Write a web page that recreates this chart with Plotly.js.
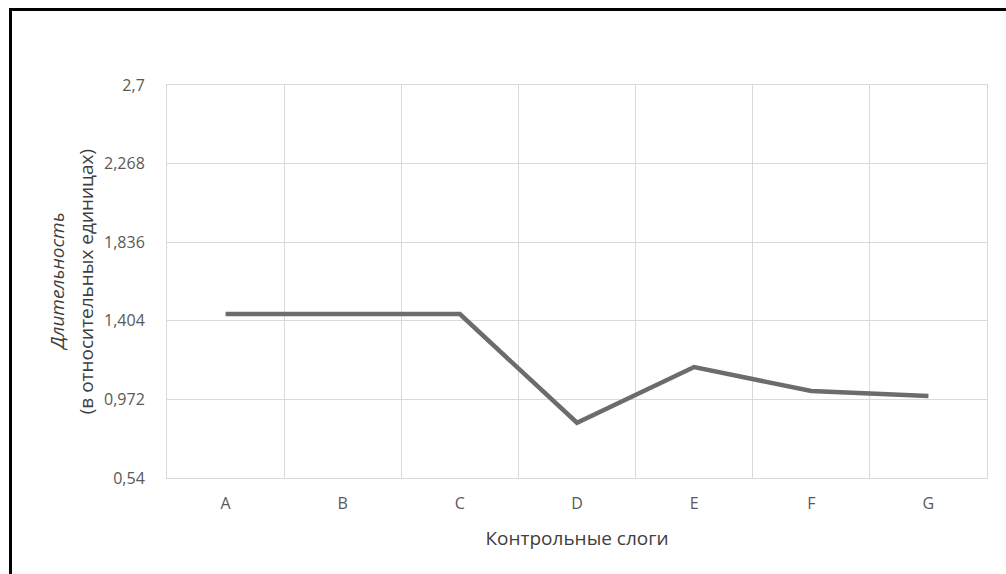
<!DOCTYPE html>
<html>
<head>
<meta charset="utf-8">
<script src="https://cdn.plot.ly/plotly-3.0.1.min.js"></script>
<style>
  html, body { margin: 0; padding: 0; background: #fff; }
  #wrap { position: relative; width: 1006px; height: 574px; overflow: hidden; }
  #chart { width: 1006px; height: 574px; }
  #frame { position: absolute; left: 9px; top: 8px; width: 1100px; height: 700px;
           border-top: 3px solid #000; border-left: 3px solid #000; pointer-events: none; }
</style>
</head>
<body>
<div id="wrap">
  <div id="chart"></div>
  <div id="frame"></div>
</div>
<script>
const categories = ['A', 'B', 'C', 'D', 'E', 'F', 'G'];
const durations = [1.441, 1.441, 1.441, 0.844, 1.150, 1.018, 0.991];
const yTicks = [0.54, 0.972, 1.404, 1.836, 2.268, 2.7];
const yTickLabels = ['0,54', '0,972', '1,404', '1,836', '2,268', '2,7'];
const xTitle = 'Контрольные слоги';
const yTitleLine1 = 'Длительность';
const yTitleLine2 = '(в относительных единицах)';

const fontFam = '"Open Sans", "Noto Sans", sans-serif';
const titleFont = { family: fontFam, size: 19, color: '#404040' };

const trace = {
  type: 'scatter',
  mode: 'lines',
  x: categories,
  y: durations,
  line: { color: '#6c6c6c', width: 4.5 },
  hoverinfo: 'x+y'
};

const layout = {
  width: 1006,
  height: 574,
  margin: { l: 167, r: 19, t: 85, b: 96 },
  paper_bgcolor: '#ffffff',
  plot_bgcolor: '#ffffff',
  showlegend: false,
  font: { family: fontFam, color: '#595959', size: 16 },
  xaxis: {
    type: 'category',
    range: [-0.5, 6.5],
    tickson: 'boundaries',
    ticks: '',
    showgrid: true,
    gridcolor: '#d9d9d9',
    gridwidth: 1,
    showline: true,
    linecolor: '#d9d9d9',
    linewidth: 1,
    mirror: true,
    zeroline: false,
    fixedrange: true,
    ticklabelstandoff: 11,
    tickfont: { family: fontFam, size: 16, color: '#595959' },
    title: { text: xTitle, font: titleFont, standoff: 18 }
  },
  yaxis: {
    range: [0.54, 2.7],
    tickmode: 'array',
    tickvals: yTicks,
    ticktext: yTickLabels,
    ticks: '',
    showgrid: true,
    gridcolor: '#d9d9d9',
    gridwidth: 1,
    showline: true,
    linecolor: '#d9d9d9',
    linewidth: 1,
    mirror: true,
    zeroline: false,
    fixedrange: true,
    ticklabelstandoff: 18,
    tickfont: { family: fontFam, size: 16, color: '#595959' }
  },
  annotations: [
    {
      text: '<i>' + yTitleLine1 + '</i>', textangle: -90,
      xref: 'paper', yref: 'paper', x: -0.135, y: 0.5,
      xanchor: 'center', yanchor: 'middle', showarrow: false, font: titleFont
    },
    {
      text: yTitleLine2, textangle: -90,
      xref: 'paper', yref: 'paper', x: -0.099, y: 0.5,
      xanchor: 'center', yanchor: 'middle', showarrow: false, font: titleFont
    }
  ]
};

Plotly.newPlot('chart', [trace], layout, { displayModeBar: false });
</script>
</body>
</html>
